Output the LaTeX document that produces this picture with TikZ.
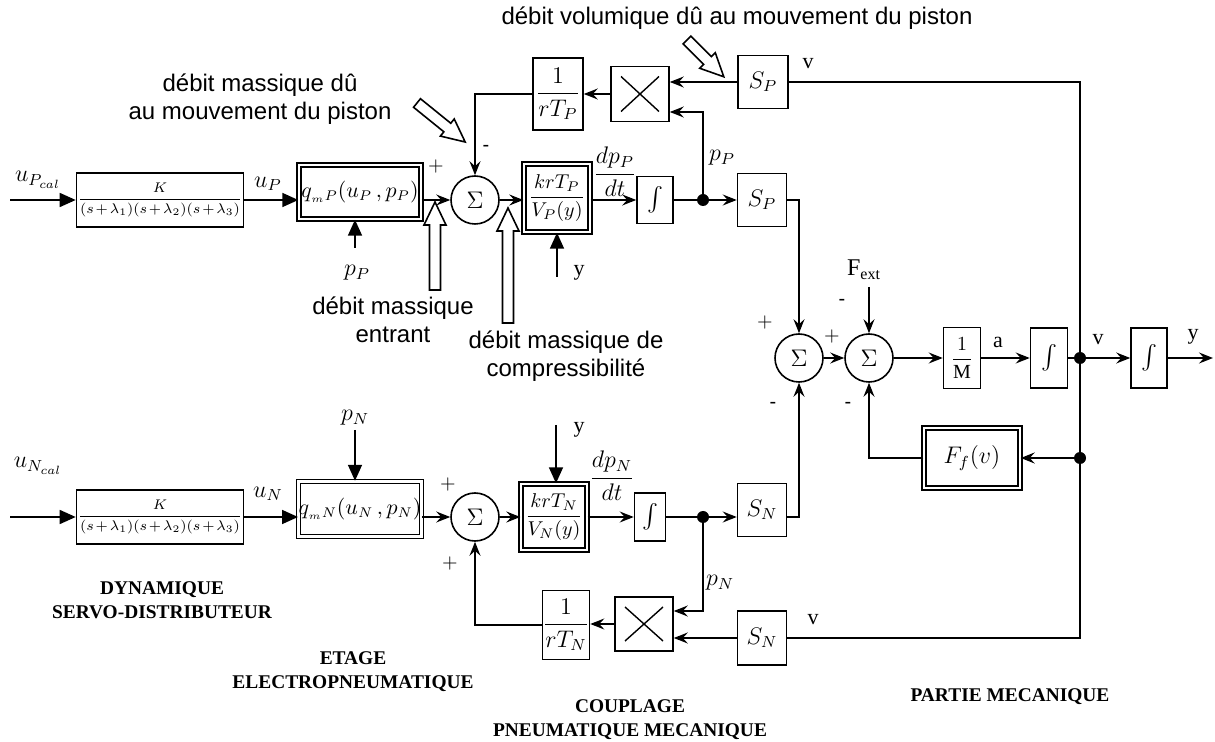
\documentclass[tikz,border=0pt]{standalone}
\usepackage{amsmath}
\usepackage{fontspec}
\setmainfont{Liberation Serif}
\setsansfont{Liberation Sans}
\usetikzlibrary{arrows.meta, calc}
\tikzset{
    blk/.style={
        rectangle,
        draw,
        line width=0.8pt,
        inner sep=0pt,
        align=center,
        font=\fontsize{12}{14}\selectfont
    },
    dblk/.style={blk, double, double distance=1.3pt, line width=0.7pt},
    servo/.style={blk, minimum width=83.5pt, minimum height=27pt, font=\fontsize{7.5}{9}\selectfont},
    sum/.style={
        circle,
        draw,
        line width=0.8pt,
        minimum size=24pt,
        inner sep=0pt,
        font=\fontsize{12}{14}\selectfont
    },
    mult/.style={blk, path picture={
        \draw[line width=0.7pt]
            ([shift={(5pt,5pt)}]path picture bounding box.south west) --
            ([shift={(-5pt,-5pt)}]path picture bounding box.north east)
            ([shift={(5pt,-5pt)}]path picture bounding box.north west) --
            ([shift={(-5pt,5pt)}]path picture bounding box.south east);
    }},
    junc/.style={circle, fill, inner sep=0pt, minimum size=6pt},
    tri/.style={-{Triangle[length=8pt, width=7pt]}, line width=0.8pt},
    arr/.style={-{Stealth[length=7pt, width=5.5pt, inset=2.5pt]}, line width=0.8pt},
    wire/.style={line width=0.8pt},
    var/.style={font=\fontsize{12}{14}\selectfont, inner sep=0pt},
    sig/.style={font=\fontsize{11}{13}\selectfont, inner sep=0pt},
    sgn/.style={font=\fontsize{10}{12}\selectfont, inner sep=0pt},
    flowtxt/.style={font=\sffamily\fontsize{12}{14}\selectfont, align=center, inner sep=0pt},
    part/.style={font=\bfseries\fontsize{9.7}{12}\selectfont, align=center, inner sep=0pt},
    hollow/.pic={
        \draw[fill=white, line width=0.8pt] (0,-5.5) -- ({#1-23},-5.5) -- ({#1-23},-11)
            -- (#1,0) -- ({#1-23},11) -- ({#1-23},5.5) -- (0,5.5) -- cycle;
    }
}
\newcommand{\servotf}{\(\medmuskip=2mu\displaystyle\frac{K}{(s+\lambda_1)(s+\lambda_2)(s+\lambda_3)}\)}

\begin{document}
\begin{tikzpicture}[x=0.5pt, y=-0.5pt]
\useasboundingbox (0,0) rectangle (1215,742);

% branche P
\coordinate (inP) at (10,200);
\node[servo] (servoP) at (160,200) {\servotf};
\node[dblk, minimum width=61pt, minimum height=27pt, font=\fontsize{10.5}{12}\selectfont] (qmP) at (360,192) {\(q_{{}_{m}P}(u_P\,, p_P)\)};
\coordinate (pinP) at (355,248);
\node[sum] (sumP) at (475,200) {\(\Sigma\)};
\node[dblk, minimum width=33pt, minimum height=34pt, font=\fontsize{10}{12}\selectfont] (krP) at (557,198) {\(\displaystyle\frac{krT_P}{V_P(y)}\)};
\coordinate (yinP) at (557,277);
\node[blk, minimum width=18pt, minimum height=23.5pt] (integP) at (655,200) {\(\int\)};
\node[junc] (splitP) at (703,200) {};
\node[blk, minimum width=24.5pt, minimum height=26.5pt] (surfP) at (762,200) {\(S_P\)};
\node[blk, minimum width=25pt, minimum height=26.5pt] (surfvP) at (763,82) {\(S_P\)};
\node[mult, minimum width=29pt, minimum height=27.5pt] (multP) at (640,94) {};
\node[blk, minimum width=25pt, minimum height=36pt] (gainP) at (558,94) {\(\displaystyle\frac{1}{rT_P}\)};

\draw[tri] (inP) -- (servoP.west);
\draw[tri] (servoP.east) -- (servoP.east -| qmP.west);
\draw[tri] (pinP) -- (pinP |- qmP.south);
\draw[arr] (qmP.east |- sumP) -- (sumP.west);
\draw[arr] (sumP.east) -- (sumP.east -| krP.west);
\draw[tri] (yinP) -- (yinP |- krP.south);
\draw[arr] (krP.east |- integP) -- (integP.west);
\draw[wire] (integP.east) -- (splitP);
\draw[arr] (splitP) -- (surfP.west);
\draw[arr] (splitP) |- ($(multP.east)+(0,18)$);
\draw[arr] (surfvP.west) -- (surfvP.west -| multP.east);
\draw[arr] (multP.west) -- (gainP.east);
\draw[arr] (gainP.west) -| (sumP.north);

\node[var] at (38,180) {\(u_{P_{cal}}\)};
\node[var] at (268,184) {\(u_P\)};
\node[var] at (357,273) {\(p_P\)};
\node[sgn] at (436,167) {\(+\)};
\node[sgn] at (486,148) {\sffamily -};
\node[var] at (615,172) {\(\displaystyle\frac{dp_P}{dt}\)};
\node[sig] at (579,273) {y};
\node[var] at (722,158) {\(p_P\)};
\node[sig] at (808,64) {v};

% branche N
\coordinate (inN) at (10,517);
\node[servo] (servoN) at (160,517) {\servotf};
\node[dblk, minimum width=61pt, minimum height=27.5pt, font=\fontsize{10.5}{12}\selectfont] (qmN) at (360,509) {\(q_{{}_{m}N}(u_N\,, p_N)\)};
\coordinate (pinN) at (355,430);
\node[sum] (sumN) at (475,517) {\(\Sigma\)};
\node[dblk, minimum width=33pt, minimum height=33pt, font=\fontsize{10}{12}\selectfont] (krN) at (554,517) {\(\displaystyle\frac{krT_N}{V_N(y)}\)};
\coordinate (yinN) at (556,425);
\node[blk, minimum width=15.5pt, minimum height=24pt] (integN) at (650,517) {\(\int\)};
\node[junc] (splitN) at (703,517) {};
\node[blk, minimum width=24.5pt, minimum height=26.5pt] (surfN) at (762,510) {\(S_N\)};
\node[mult, minimum width=29pt, minimum height=27pt] (multN) at (644,624) {};
\node[blk, minimum width=23.5pt, minimum height=34.5pt] (gainN) at (566,625) {\(\displaystyle\frac{1}{rT_N}\)};
\node[blk, minimum width=24.5pt, minimum height=27pt] (surfvN) at (762,638) {\(S_N\)};

\draw[tri] (inN) -- (servoN.west);
\draw[tri] (servoN.east) -- (servoN.east -| qmN.west);
\draw[tri] (pinN) -- (pinN |- qmN.north);
\draw[arr] (qmN.east |- sumN) -- (sumN.west);
\draw[arr] (sumN.east) -- (krN.west);
\draw[tri] (yinN) -- (yinN |- krN.north);
\draw[arr] (krN.east) -- (integN.west);
\draw[wire] (integN.east) -- (splitN);
\draw[arr] (splitN) -- (splitN -| surfN.west);
\draw[arr] (splitN) |- ($(multN.east)+(0,-13)$);
\draw[arr] (surfvN.west) -- (surfvN.west -| multN.east);
\draw[arr] (multN.west) -- (multN.west -| gainN.east);
\draw[arr] (gainN.west) -| (sumN.south);

\node[var] at (38,466) {\(u_{N_{cal}}\)};
\node[var] at (268,494) {\(u_N\)};
\node[var] at (355,418) {\(p_N\)};
\node[sgn] at (448,485) {\(+\)};
\node[sgn] at (450,563) {\(+\)};
\node[sig] at (579,430) {y};
\node[var] at (612,476) {\(\displaystyle\frac{dp_N}{dt}\)};
\node[var] at (720,583) {\(p_N\)};
\node[sig] at (813,620) {v};

% partie mecanique
\node[sum] (sumA) at (799,358) {\(\Sigma\)};
\node[sum] (sumB) at (869,358) {\(\Sigma\)};
\coordinate (fext) at (869,287);
\node[blk, minimum width=18.5pt, minimum height=30.5pt, font=\fontsize{10}{12}\selectfont] (invM) at (962,358) {\(\displaystyle\frac{1}{\mathrm{M}}\)};
\node[blk, minimum width=18.5pt, minimum height=30pt] (integV) at (1049,358) {\(\int\)};
\node[junc] (dotV) at (1080,358) {};
\node[blk, minimum width=18pt, minimum height=30pt] (integY) at (1149,358) {\(\int\)};
\coordinate (outY) at (1213,358);
\node[dblk, minimum width=48pt, minimum height=30pt] (fric) at (972,458) {\(F_f(v)\)};
\node[junc] (dotF) at (1080,458) {};

\draw[arr] (surfP.east) -| (sumA.north);
\draw[arr] (surfN.east |- splitN) -| (sumA.south);
\draw[arr] (sumA.east) -- (sumB.west);
\draw[arr] (fext) -- (sumB.north);
\draw[arr] (sumB.east) -- (invM.west);
\draw[arr] (invM.east) -- (integV.west);
\draw[wire] (integV.east) -- (dotV);
\draw[arr] (dotV) -- (integY.west);
\draw[arr] (integY.east) -- (outY);
\draw[wire] (surfvP.east) -| (dotV);
\draw[wire] (dotV) -- (dotF);
\draw[wire] (surfvN.east) -| (dotF);
\draw[arr] (dotF) -- (fric.east);
\draw[arr] (fric.west) -| (sumB.south);

\node[sgn] at (765,323) {\(+\)};
\node[sgn] at (832,337) {\(+\)};
\node[sgn] at (842,302) {\sffamily -};
\node[var] at (864,270) {\(\mathrm{F}_{\mathrm{ext}}\)};
\node[sgn] at (773,405) {\sffamily -};
\node[sgn] at (848,405) {\sffamily -};
\node[sig] at (998,342) {a};
\node[sig] at (1098,340) {v};
\node[sig] at (1193,337) {y};

% debits
\node[flowtxt] (volP) at (737,18) {débit volumique dû au mouvement du piston};
\node[flowtxt] (pistP) at (260,99) {débit massique dû\\au mouvement du piston};
\node[flowtxt] (entrP) at (393,320) {débit massique\\entrant};
\node[flowtxt] (comprP) at (566,356) {débit massique de\\compressibilité};
\pic[rotate=-45] at (687,40) {hollow=52};
\pic[rotate=-39] at (417,103) {hollow=62};
\pic[rotate=90] at (435,290) {hollow=88};
\pic[rotate=90] at (508,323) {hollow=115};

% parties
\node[part] at (162,600) {DYNAMIQUE\\SERVO-DISTRIBUTEUR};
\node[part] at (353,672) {ETAGE\\ELECTROPNEUMATIQUE};
\node[part] at (630,720) {COUPLAGE\\PNEUMATIQUE MECANIQUE};
\node[part] at (1010,697) {PARTIE MECANIQUE};

\end{tikzpicture}
\end{document}
